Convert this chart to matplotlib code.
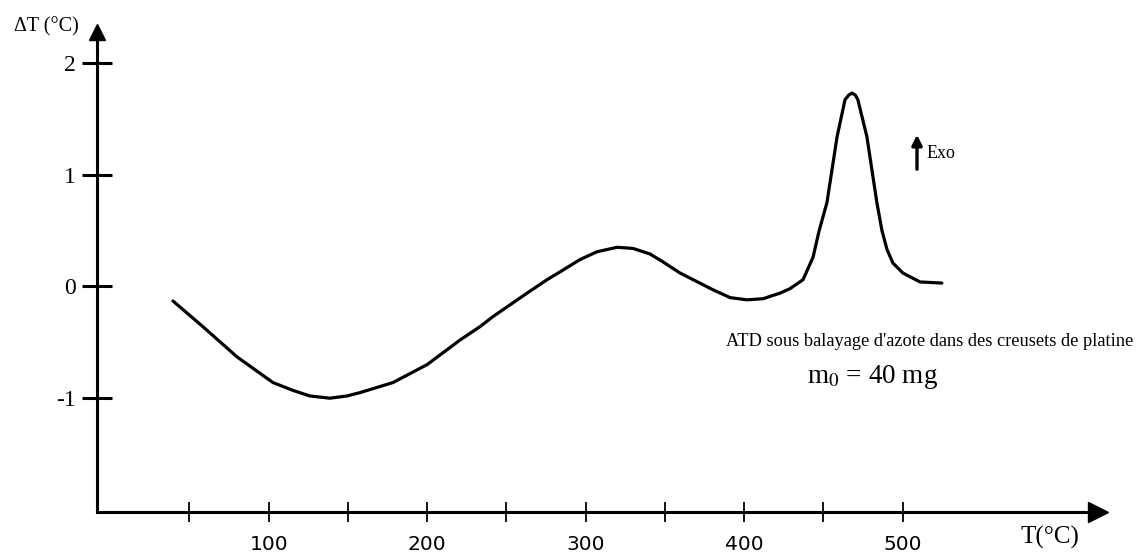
import matplotlib
matplotlib.use("Agg")
import matplotlib.pyplot as plt
from matplotlib.patches import FancyArrowPatch
from matplotlib.ticker import FixedLocator

# DTA trace: temperature (°C) and ΔT (°C)
temp = [39.6, 58.5, 80.0, 102.7, 115.3, 126.0, 138.6, 149.4, 157.6, 178.4,
        199.9, 220.7, 233.3, 241.5, 263.0, 275.6, 283.8, 296.4, 307.1, 319.8,
        329.8, 340.6, 348.7, 359.5, 380.3, 391.1, 401.8, 411.9, 422.6, 428.9,
        437.1, 443.4, 447.3, 452.2, 458.6, 463.6, 465.8, 468.0, 470.2, 471.7,
        477.4, 483.7, 486.9, 490.1, 493.8, 500.1, 510.9, 524.7]
delta_t = [-0.13, -0.36, -0.63, -0.86, -0.93, -0.98, -1.00, -0.98, -0.95, -0.86,
           -0.70, -0.48, -0.36, -0.27, -0.06, 0.06, 0.13, 0.24, 0.31, 0.35,
           0.34, 0.29, 0.22, 0.12, -0.03, -0.10, -0.12, -0.11, -0.06, -0.02,
           0.06, 0.26, 0.50, 0.75, 1.34, 1.67, 1.71, 1.73, 1.71, 1.67,
           1.34, 0.75, 0.50, 0.33, 0.21, 0.12, 0.04, 0.03]

x_major = [100, 200, 300, 400, 500]
x_minor = [50, 150, 250, 350, 450]
y_ticks = [-1, 0, 1, 2]
y_labels = ["-1", "0", "1", "2"]

serif = ["Liberation Serif", "DejaVu Serif"]
plt.rcParams["mathtext.fontset"] = "stix"

W, H = 1144, 553
fig = plt.figure(figsize=(W / 100, H / 100), dpi=100)


def fx(px):
    return px / W


def fy(py):
    return 1 - py / H


ax = fig.add_axes([fx(97), fy(512), fx(1098) - fx(97), fy(32) - fy(512)])
ax.set_xlim(-8.3, 623.2)
ax.set_ylim(-2.018, 2.276)

ax.plot(temp, delta_t, color="black", lw=2.3, solid_joinstyle="round",
        solid_capstyle="round")

for side in ("top", "right"):
    ax.spines[side].set_visible(False)
for side in ("left", "bottom"):
    ax.spines[side].set_linewidth(2.2)

# arrow heads at the ends of both axes
ax.plot(1, 0, marker=">", color="black", ms=15, transform=ax.transAxes, clip_on=False)
ax.plot(0, 1, marker="^", color="black", ms=11, transform=ax.transAxes, clip_on=False)

ax.xaxis.set_major_locator(FixedLocator(x_major))
ax.xaxis.set_minor_locator(FixedLocator(x_minor))
ax.set_xticklabels([str(v) for v in x_major])
ax.tick_params(axis="x", which="both", direction="inout", length=15, width=1.3,
               pad=9, labelsize=14.5)

ax.set_yticks(y_ticks)
ax.set_yticklabels(y_labels, fontfamily=serif)
ax.tick_params(axis="y", direction="inout", length=22, width=2.2, pad=4,
               labelsize=17)

fig.text(fx(14), fy(27), "ΔT (°C)", family=serif, fontsize=14.5, va="center", ha="left")
fig.text(fx(1050), fy(537), "T(°C)", family=serif, fontsize=18, va="center", ha="center")

# exothermic direction marker
fig.patches.append(FancyArrowPatch(
    (fx(917), fy(172)), (fx(917), fy(132)), transform=fig.transFigure,
    arrowstyle="-|>", mutation_scale=15, lw=2.4, color="black"))
fig.text(fx(927), fy(154), "Exo", family=serif, fontsize=13, va="center", ha="left")

fig.text(fx(930), fy(342), "ATD sous balayage d'azote dans des creusets de platine",
         family=serif, fontsize=13.2, va="center", ha="center")
fig.text(fx(873), fy(377), r"m$_0$ = 40 mg", family=serif, fontsize=19.5,
         va="center", ha="center")

fig.savefig("out.png", dpi=100)
